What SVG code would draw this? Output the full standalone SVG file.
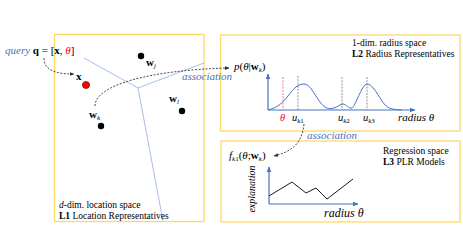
<svg xmlns="http://www.w3.org/2000/svg" width="463" height="245" viewBox="0 0 463 245">
<defs>
<style>
text{font-family:"Liberation Serif","Times New Roman",serif;fill:#000}
.box{fill:#fff;stroke:#FFD966;stroke-width:1.3}
.vor{fill:none;stroke:#9DB6E6;stroke-width:0.9}
.axis{fill:none;stroke:#4472C4;stroke-width:1.2}
.dash{fill:none;stroke:#333;stroke-width:0.9;stroke-dasharray:2 1.5}
.gdash{fill:none;stroke:#777;stroke-width:0.8;stroke-dasharray:2 1.2}
.blue{fill:#4472C4}
.it{font-style:italic}
.b{font-weight:bold}
.red{fill:#FF0000}
</style>
<marker id="ah" viewBox="0 0 10 10" refX="9" refY="5" markerWidth="5" markerHeight="5" orient="auto"><path d="M0,1 L10,5 L0,9 z" fill="#333"/></marker>
<marker id="ab" viewBox="0 0 10 10" refX="9" refY="5" markerWidth="5" markerHeight="5" orient="auto"><path d="M0,1 L10,5 L0,9 z" fill="#4472C4"/></marker>
</defs>
<rect width="463" height="245" fill="#fff"/>

<g id="L1">
<rect class="box" x="54.5" y="34.5" width="149.5" height="187"/>
<path class="vor" d="M84,58 L138,88 L204,63 M138,88 L163,221"/>
<circle cx="141" cy="56" r="3.2" fill="#000"/>
<circle cx="182" cy="111" r="3.2" fill="#000"/>
<circle cx="101" cy="126" r="3.2" fill="#000"/>
<circle cx="86" cy="85" r="3.6" fill="#FF0000" stroke="#600" stroke-width="0.6"/>
<text x="76" y="80" font-size="11" class="b">x</text>
<text x="146" y="66" font-size="11"><tspan class="b">w</tspan><tspan class="it" font-size="7" dy="2">j</tspan></text>
<text x="169" y="102" font-size="11"><tspan class="b">w</tspan><tspan class="it" font-size="7" dy="2">l</tspan></text>
<text x="89" y="118" font-size="11"><tspan class="b">w</tspan><tspan class="it" font-size="7" dy="2">k</tspan></text>
<text x="59" y="208" font-size="9.5"><tspan class="it">d</tspan>-dim. location space</text>
<text x="59" y="219" font-size="9.5"><tspan class="b">L1</tspan> Location Representatives</text>
</g>

<g id="query">
<text x="5" y="54" font-size="11"><tspan class="blue it">query</tspan> <tspan class="b">q</tspan> = [<tspan class="b">x</tspan>, <tspan class="red it">θ</tspan>]</text>
</g>

<g id="L2">
<rect class="box" x="220.5" y="35" width="239.5" height="96"/>
<text x="352" y="46" font-size="9.5">1-dim. radius space</text>
<text x="352" y="57" font-size="9.5"><tspan class="b">L2</tspan> Radius Representatives</text>
<path class="axis" d="M268,110 L268,74" marker-end="url(#ab)"/>
<path class="axis" d="M268,110 L415,110" marker-end="url(#ab)"/>
<path fill="none" stroke="#FF5050" stroke-width="0.8" stroke-dasharray="2 1.2" d="M283,77 L283,110"/>
<path class="gdash" d="M298,76 L298,110 M342,77 L342,110 M367,77 L367,110"/>
<path fill="none" stroke="#4472C4" stroke-width="1" d="M268,110 C276,108 282,104 288,96 S298,84 304,84 S314,94 320,102 S330,109 334,108 S340,104 343,104 S349,109 352,108 S362,84 367,84 S376,92 382,101 S392,109 402,110"/>
<text x="234" y="70" font-size="11"><tspan class="it">p</tspan>(<tspan class="it">θ</tspan>|<tspan class="b">w</tspan><tspan class="it" font-size="7" dy="2">k</tspan><tspan dy="-2">)</tspan></text>
<text x="280" y="121" font-size="10.5" class="red it">θ</text>
<text x="292" y="121" font-size="10.5"><tspan class="it">u</tspan><tspan class="it" font-size="7" dy="2">k</tspan><tspan font-size="7">1</tspan></text>
<text x="338" y="121" font-size="10.5"><tspan class="it">u</tspan><tspan class="it" font-size="7" dy="2">k</tspan><tspan font-size="7">2</tspan></text>
<text x="363" y="121" font-size="10.5"><tspan class="it">u</tspan><tspan class="it" font-size="7" dy="2">k</tspan><tspan font-size="7">3</tspan></text>
<text x="398" y="121" font-size="11" class="it">radius θ</text>
</g>

<g id="L3">
<rect class="box" x="221" y="141" width="239" height="81"/>
<text x="383" y="154" font-size="9.5">Regression space</text>
<text x="383" y="165" font-size="9.5"><tspan class="b">L3</tspan> PLR Models</text>
<path class="axis" d="M269,204 L269,167" marker-end="url(#ab)"/>
<path class="axis" d="M269,204 L358,204" marker-end="url(#ab)"/>
<polyline fill="none" stroke="#000" stroke-width="0.9" points="269,196 292,182 306,193 316,188 327,199 353,179"/>
<text x="229" y="159" font-size="11"><tspan class="it">f</tspan><tspan class="it" font-size="7" dy="2">k</tspan><tspan font-size="7">1</tspan><tspan dy="-2">(</tspan><tspan class="it">θ</tspan>;<tspan class="b">w</tspan><tspan class="it" font-size="7" dy="2">k</tspan><tspan dy="-2">)</tspan></text>
<text transform="translate(255,189) rotate(-90)" text-anchor="middle" font-size="10" class="it">explanation</text>
<text x="324" y="217" font-size="12" class="it">radius θ</text>
</g>

<g id="connectors">
<path class="dash" d="M44,58 C44,70 55,74 74,74" marker-end="url(#ah)"/>
<path class="dash" d="M95,106 C95,85 150,70 229,68" marker-end="url(#ah)"/>
<path class="dash" d="M304,124 C302,145 290,152 274,156" marker-end="url(#ah)"/>
<text x="182" y="80" font-size="11" class="blue it">association</text>
<text x="307" y="139" font-size="11" class="blue it">association</text>
</g>
</svg>
